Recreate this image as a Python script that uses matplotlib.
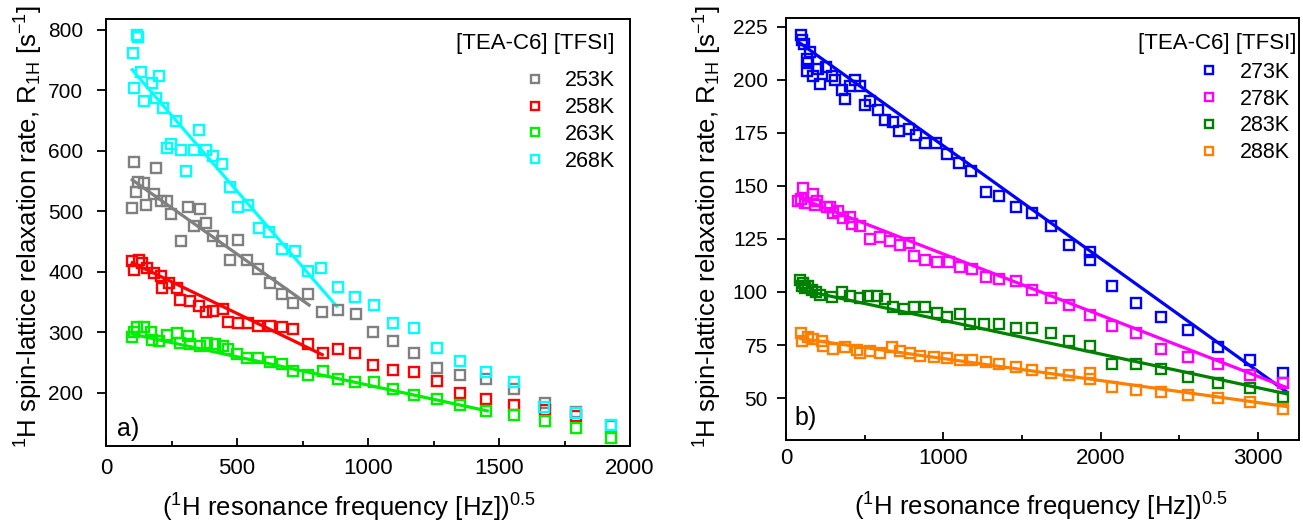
import matplotlib
matplotlib.use("Agg")
import matplotlib.pyplot as plt
from matplotlib.lines import Line2D
from matplotlib.ticker import MultipleLocator

plt.rcParams["font.family"] = ["Liberation Sans", "DejaVu Sans"]
plt.rcParams["mathtext.fontset"] = "custom"
plt.rcParams["mathtext.rm"] = "Liberation Sans"
plt.rcParams["mathtext.it"] = "Liberation Sans:italic"

# ---- panel a) data ----
a_x_253 = [100, 106, 113, 121, 144, 154, 182, 189, 210, 233, 248, 286, 311, 334, 357, 383, 410, 442, 474,
           505, 537, 581, 626, 670, 714, 772, 826, 886, 953, 1019, 1095, 1177, 1262, 1352, 1452, 1557,
           1674, 1794, 1927]
a_y_253 = [506, 581, 532, 549, 547, 510, 528, 571, 517, 517, 495, 451, 507, 475, 504, 481, 459, 451, 419,
           453, 420, 404, 382, 364, 349, 363, 333, 337, 330, 300, 285, 265, 241, 229, 222, 206,
           183, 168, 145]

a_x_258 = [100, 106, 125, 138, 157, 182, 208, 214, 239, 271, 284, 322, 353, 383, 410, 446, 467, 505, 543,
           581, 626, 670, 714, 772, 829, 886, 949, 1019, 1095, 1177, 1262, 1352, 1452, 1557, 1674, 1794]
a_y_258 = [418, 403, 420, 415, 407, 398, 393, 374, 382, 374, 354, 352, 343, 333, 336, 338, 317, 316, 316,
           310, 310, 309, 305, 281, 266, 272, 265, 246, 237, 234, 219, 200, 189, 180, 172, 162]

a_x_263 = [100, 106, 119, 144, 170, 176, 201, 231, 271, 284, 311, 322, 360, 385, 417, 446, 467, 499, 537,
           581, 626, 670, 714, 772, 829, 886, 949, 1021, 1095, 1177, 1262, 1352, 1452, 1557, 1674, 1794, 1927]
a_y_263 = [293, 300, 308, 308, 300, 287, 286, 295, 298, 282, 294, 280, 277, 282, 280, 277, 272, 264, 258,
           257, 251, 247, 236, 229, 236, 222, 218, 217, 207, 196, 189, 180, 170, 163, 154, 141, 126]

a_x_268 = [101, 106, 119, 123, 135, 144, 176, 192, 203, 216, 233, 249, 268, 287, 306, 334, 356, 383, 410,
           443, 474, 505, 543, 585, 623, 670, 721, 771, 822, 886, 949, 1021, 1095, 1177, 1262, 1352, 1452,
           1557, 1671, 1794, 1927]
a_y_268 = [761, 704, 792, 788, 730, 683, 712, 687, 724, 671, 604, 612, 650, 601, 566, 601, 634, 601, 591,
           579, 540, 507, 511, 473, 466, 437, 434, 402, 407, 375, 359, 345, 315, 307, 274, 252, 235,
           217, 176, 166, 147]

# linear fits (end points)
a_fit_253 = ([100, 775], [552, 345])
a_fit_258 = ([100, 825], [415, 263])
a_fit_263 = ([100, 1455], [297, 170])
a_fit_268 = ([100, 880], [734, 343])

# ---- panel b) data ----
b_x_273 = [94, 100, 115, 132, 136, 142, 153, 174, 206, 217, 255, 291, 312, 355, 376, 408, 439, 471, 503,
           535, 588, 631, 680, 716, 779, 828, 885, 955, 1024, 1098, 1177, 1268, 1353, 1459, 1565, 1682,
           1798, 1932, 1932, 2070, 2223, 2382, 2558, 2743, 2949, 3161]
b_y_273 = [221, 219, 217, 210, 204, 208, 213, 202, 205, 198, 206, 202, 200, 195, 191, 197, 200, 197, 188,
           190, 186, 181, 180, 176, 177, 174, 170, 170, 165, 161, 157, 147, 145, 140, 137, 131,
           122, 119, 115, 103, 95, 88, 82, 74, 68, 62]

b_x_278 = [78, 94, 110, 121, 174, 185, 196, 259, 280, 302, 333, 365, 408, 418, 471, 535, 599, 662, 726,
           779, 811, 885, 960, 1034, 1108, 1183, 1268, 1353, 1459, 1565, 1682, 1798, 1932, 2070, 2223,
           2382, 2558, 2743, 2949, 3161]
b_y_278 = [143, 144, 149, 142, 146, 141, 143, 140, 140, 137, 138, 135, 135.5, 132, 131, 125, 126, 124, 122,
           123, 117, 115, 114, 114, 112, 111, 107, 106, 105, 101, 97, 94, 89, 84, 80.5,
           73, 69.5, 66, 61, 57]

b_x_283 = [89, 100, 110, 121, 140, 164, 190, 217, 291, 355, 408, 471, 524, 578, 631, 683, 747, 811, 885,
           960, 1024, 1108, 1172, 1257, 1353, 1459, 1565, 1682, 1798, 1932, 2070, 2223, 2382, 2558,
           2743, 2949, 3161]
b_y_283 = [105.7, 103, 104, 102, 103, 101, 100, 98.6, 97.8, 100, 98, 97, 98, 98, 96.5, 93, 92, 93, 93,
           90, 88, 89.6, 85, 85, 85, 83, 83, 80.5, 77, 74.7, 66, 66, 63.5, 60,
           57, 54.6, 50.6]

b_x_288 = [94, 100, 142, 174, 227, 238, 302, 376, 450, 471, 535, 599, 673, 726, 790, 854, 938, 1024, 1108,
           1183, 1268, 1353, 1459, 1565, 1682, 1798, 1932, 1932, 2070, 2223, 2382, 2558, 2743, 2949, 3161]
b_y_288 = [80.5, 77, 79, 77.7, 77, 74.7, 73, 74, 72.6, 71, 72, 71, 74, 72, 71, 70, 69.5, 68.7, 68,
           68, 67, 66, 64.8, 63, 61.6, 61, 61.6, 59, 55, 54, 53, 51.4, 50, 48, 45]

b_fit_273 = ([95, 3180], [217, 53])
b_fit_278 = ([95, 3180], [144, 55])
b_fit_283 = ([95, 3180], [101, 52])
b_fit_288 = ([95, 3180], [78, 46])

panel_a = [
    ("253K", "#808080", a_x_253, a_y_253, a_fit_253),
    ("258K", "#ff0000", a_x_258, a_y_258, a_fit_258),
    ("263K", "#00ee00", a_x_263, a_y_263, a_fit_263),
    ("268K", "#00ffff", a_x_268, a_y_268, a_fit_268),
]
panel_b = [
    ("273K", "#0000ff", b_x_273, b_y_273, b_fit_273),
    ("278K", "#ff00ff", b_x_278, b_y_278, b_fit_278),
    ("283K", "#008000", b_x_283, b_y_283, b_fit_283),
    ("288K", "#ff8000", b_x_288, b_y_288, b_fit_288),
]

ylabel = r"$\mathregular{^1}$H spin-lattice relaxation rate, R$\mathregular{_{1H}}$ [s$\mathregular{^{-1}}$]"
xlabel = r"($\mathregular{^1}$H resonance frequency [Hz])$\mathregular{^{0.5}}$"
leg_title = "[TEA-C6] [TFSI]"

fig = plt.figure(figsize=(13.03, 5.24), dpi=100)
ax1 = fig.add_axes([0.0814, 0.1489, 0.4021, 0.8148])
ax2 = fig.add_axes([0.6032, 0.1594, 0.3937, 0.8057])


def draw(ax, series, tag, title_xy, leg_xy, tag_xy, xpad, ypad):
    handles = []
    for name, col, xs, ys, fit in series:
        ax.plot(fit[0], fit[1], color=col, lw=2.3, zorder=2)
        ax.plot(xs, ys, ls="none", marker="s", ms=7.3, mfc="none", mec=col, mew=1.7, zorder=3)
        handles.append(Line2D([], [], ls="none", marker="s", ms=5.5, mfc="none", mec=col,
                              mew=1.7, label=name))
    ax.text(title_xy[0], title_xy[1], leg_title, transform=ax.transAxes, fontsize=16,
            ha="right", va="top")
    ax.legend(handles=handles, loc="upper right", bbox_to_anchor=leg_xy, frameon=False,
              fontsize=15.5, handlelength=1.0, handletextpad=0.9, labelspacing=0.27,
              borderaxespad=0, borderpad=0)
    ax.text(tag_xy[0], tag_xy[1], tag, transform=ax.transAxes, fontsize=18, ha="left", va="bottom")
    ax.set_ylabel(ylabel, fontsize=18.5)
    ax.set_xlabel(xlabel, fontsize=18.5)
    ax.xaxis.label.set_va("baseline")
    ax.yaxis.label.set_va("baseline")
    for s in ax.spines.values():
        s.set_linewidth(1.4)
    ax.tick_params(axis="x", which="both", direction="in", labelsize=16, width=1.3, pad=xpad)
    ax.tick_params(axis="x", which="major", length=6)
    ax.tick_params(axis="x", which="minor", length=3.5)
    ax.tick_params(axis="y", direction="out", labelsize=15, width=1.3, length=6.5, pad=ypad)


draw(ax1, panel_a, "a)", (0.971, 0.967), (0.971, 0.880), (0.02, 0.012), 9, 10)
ax1.set_xlim(0, 2000)
ax1.set_ylim(112, 818)
ax1.xaxis.set_major_locator(MultipleLocator(500))
ax1.xaxis.set_minor_locator(MultipleLocator(250))
ax1.set_yticks([200, 300, 400, 500, 600, 700, 800])
ax1.yaxis.set_label_coords(-0.130, 0.514)
ax1.xaxis.set_label_coords(0.463, -0.166)

draw(ax2, panel_b, "b)", (0.996, 0.966), (0.982, 0.897), (0.017, 0.025), 5.5, 6.5)
ax2.set_xlim(0, 3260)
ax2.set_ylim(30, 229)
ax2.xaxis.set_major_locator(MultipleLocator(1000))
ax2.xaxis.set_minor_locator(MultipleLocator(500))
ax2.set_yticks([50, 75, 100, 125, 150, 175, 200, 225])
ax2.yaxis.set_label_coords(-0.1345, 0.507)
ax2.xaxis.set_label_coords(0.497, -0.178)

fig.savefig("out.png", dpi=100)
